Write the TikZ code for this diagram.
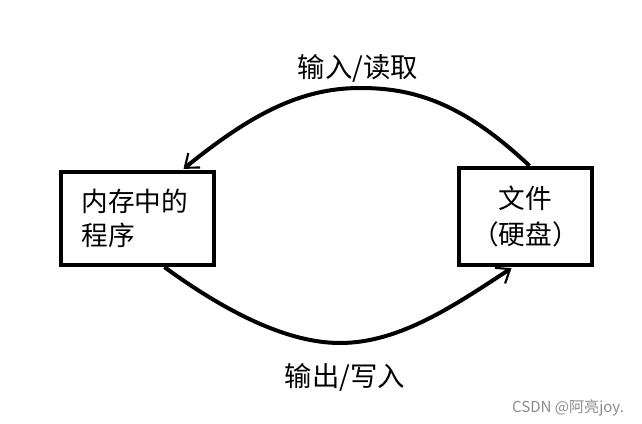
\documentclass[tikz,border=0pt]{standalone}
\usepackage{fontspec}
\setmainfont{Noto Sans CJK SC}
\newfontfamily\cjk{Noto Sans CJK SC}
\usetikzlibrary{arrows.meta,calc}
\begin{document}
\begin{tikzpicture}[x=0.75pt,y=-0.75pt,
  boxnode/.style={draw=black,line width=3.2pt,inner sep=0pt,font=\cjk\fontsize{20}{25}\selectfont},
  flow/.style={line width=3pt,-{Straight Barb[length=9pt,width=14pt,line width=1.6pt]}},
  lbl/.style={font=\cjk\fontsize{20.5}{24}\selectfont,inner sep=0pt}]
\useasboundingbox[fill=white] (0,0) rectangle (642,424);
\node[boxnode,minimum width=114.75pt,minimum height=69.75pt,text width=84pt,align=left] (mem) at (137.5,218.5) {内存中的\\程序};
\node[boxnode,minimum width=99.75pt,minimum height=72.75pt,align=center,font=\cjk\fontsize{20}{27}\selectfont] (file) at (525.5,216.5) {文件\\（硬盘）};
\draw[flow] ($(file.north)+(4,0)$) .. controls (460,100) and (410,88) .. (360,88)
  .. controls (300,88) and (250,115) .. ($(mem.north)+(46,-1)$);
\draw[flow] ($(mem.south)+(27,0)$) .. controls (230,315) and (290,343) .. (340,343)
  .. controls (400,343) and (455,305) .. ($(file.south)+(-14,1)$);
\node[lbl] (top) at (358,68) {输入/读取};
\node[lbl] (bot) at (345,377) {输出/写入};
\node[font=\cjk\fontsize{11.3}{13}\selectfont,text=black!45,inner sep=0pt] (wm) at (568,408) {CSDN @阿亮joy.};
\end{tikzpicture}
\end{document}
